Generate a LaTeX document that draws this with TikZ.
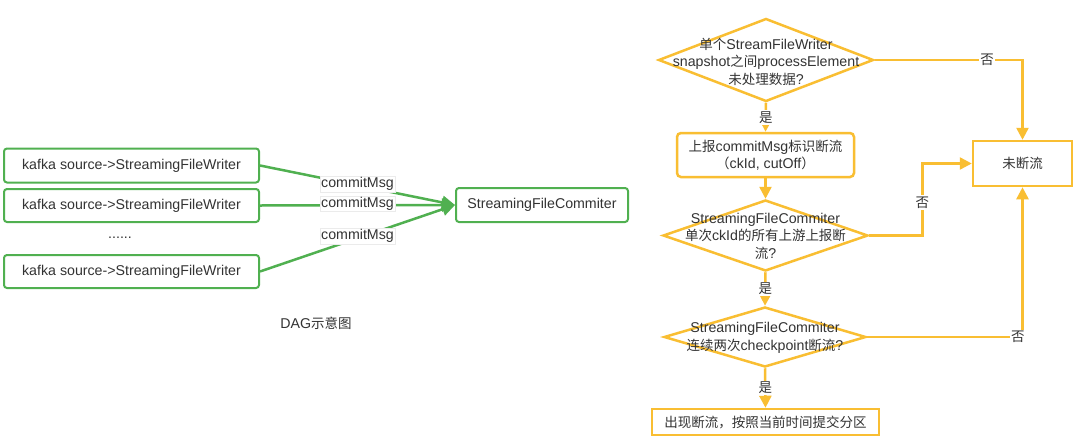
\documentclass[tikz,border=0pt]{standalone}
\usepackage{fontspec}
\setmainfont{Liberation Sans}
\newfontfamily\cjk[Scale=0.95]{Noto Sans CJK SC}
\newcommand\zh[1]{{\cjk #1}}
\usetikzlibrary{arrows.meta,shapes.geometric,calc}
\definecolor{gline}{RGB}{80,176,80}
\definecolor{oline}{RGB}{249,190,50}
\definecolor{txt}{RGB}{51,51,51}
\tikzset{
  base/.style={font=\fontsize{14.2}{17.5}\selectfont, text=txt},
  gbox/.style={base, draw=gline, line width=2pt, rounded corners=3pt, rectangle, inner sep=0pt},
  garrow/.style={draw=gline, line width=2.5pt, -{Triangle[length=13pt,width=13pt]}},
  glabel/.style={base, fill=white, draw=black!8, line width=0.4pt, inner sep=1.2pt},
  obox/.style={base, draw=oline, line width=2.5pt, rectangle, inner sep=0pt, align=center},
  odia/.style={draw=oline, line width=2.5pt, diamond, inner sep=0pt},
  dtext/.style={base, align=center},
  oarrow/.style={draw=oline, line width=2.5pt, -{Triangle[length=12pt,width=12pt]}},
  oline/.style={draw=oline, line width=2.5pt},
  olabel/.style={base, fill=white, inner sep=1.5pt},
}
\begin{document}
\begin{tikzpicture}[x=1pt,y=-1pt]
\useasboundingbox (0,0) rectangle (1080,445);
\fill[white] (0,0) rectangle (1080,445);
% ---------- left DAG ----------
\node[gbox, minimum width=255pt, minimum height=34pt] (k1) at (131.5,165.5) {kafka source->StreamingFileWriter};
\node[gbox, minimum width=255pt, minimum height=33pt] (k2) at (131.5,205.5) {kafka source->StreamingFileWriter};
\node[base] (dots) at (120,238) {......};
\node[gbox, minimum width=255pt, minimum height=33pt] (k3) at (131.5,271.5) {kafka source->StreamingFileWriter};
\node[gbox, minimum width=172pt, minimum height=34pt] (com) at (542,205) {StreamingFileCommiter};
\node[base] (dag) at (316,323) {DAG\zh{示意图}};
\draw[garrow] (k1.east) -- node[glabel, pos=0.5, yshift=1pt] (l1) {commitMsg} (com.west);
\draw[garrow] (k2.east) -- node[glabel, pos=0.5, yshift=1.5pt] (l2) {commitMsg} (com.west);
\draw[garrow] (k3.east) -- node[glabel, pos=0.5, yshift=2pt] (l3) {commitMsg} (com.west);
% ---------- right flowchart ----------
\node[odia, minimum width=215pt, minimum height=83pt] (d1) at (766,60) {};
\node[dtext] (t1) at (766,61.5) {\zh{单个}StreamFileWriter\\snapshot\zh{之间}processElement\\\zh{未处理数据}?};
\node[obox, rounded corners=4pt, minimum width=177pt, minimum height=44pt] (b1) at (765.5,155) {\zh{上报}commitMsg\zh{标识断流}\\\zh{（}ckId, cutOff\zh{）}};
\node[odia, minimum width=205pt, minimum height=71pt] (d2) at (765.5,235.5) {};
\node[dtext] (t2) at (765.5,236) {StreamingFileCommiter\\\zh{单次}ckId\zh{的所有上游上报断}\\\zh{流}?};
\node[odia, minimum width=202pt, minimum height=60pt] (d3) at (765,337) {};
\node[dtext] (t3) at (765,338) {StreamingFileCommiter\\\zh{连续两次}checkpoint\zh{断流}?};
\node[obox, minimum width=227pt, minimum height=26pt] (b2) at (765.5,422) {\zh{出现断流，按照当前时间提交分区}};
\node[obox, minimum width=99pt, minimum height=45pt] (n) at (1022.5,163.5) {\zh{未断流}};
\draw[oarrow] (d1.south) -- node[olabel, pos=0.5] (y1) {\zh{是}} (b1.north);
\draw[oarrow] (b1.south) -- (d2.north);
\draw[oarrow] (d2.south) -- node[olabel, pos=0.5] (y2) {\zh{是}} (d3.north);
\draw[oarrow] (d3.south) -- node[olabel, pos=0.5] (y3) {\zh{是}} (b2.north);
\draw[oarrow] (d1.east) -| node[olabel, pos=0.38] (n1) {\zh{否}} (n.north);
\draw[oarrow] (d2.east) -- ++(53,0) |- node[olabel, pos=0.23] (n2) {\zh{否}} (n.west);
\draw[oarrow] (d3.east) -| node[olabel, pos=0.485] (n3) {\zh{否}} (n.south);
\end{tikzpicture}
\end{document}
